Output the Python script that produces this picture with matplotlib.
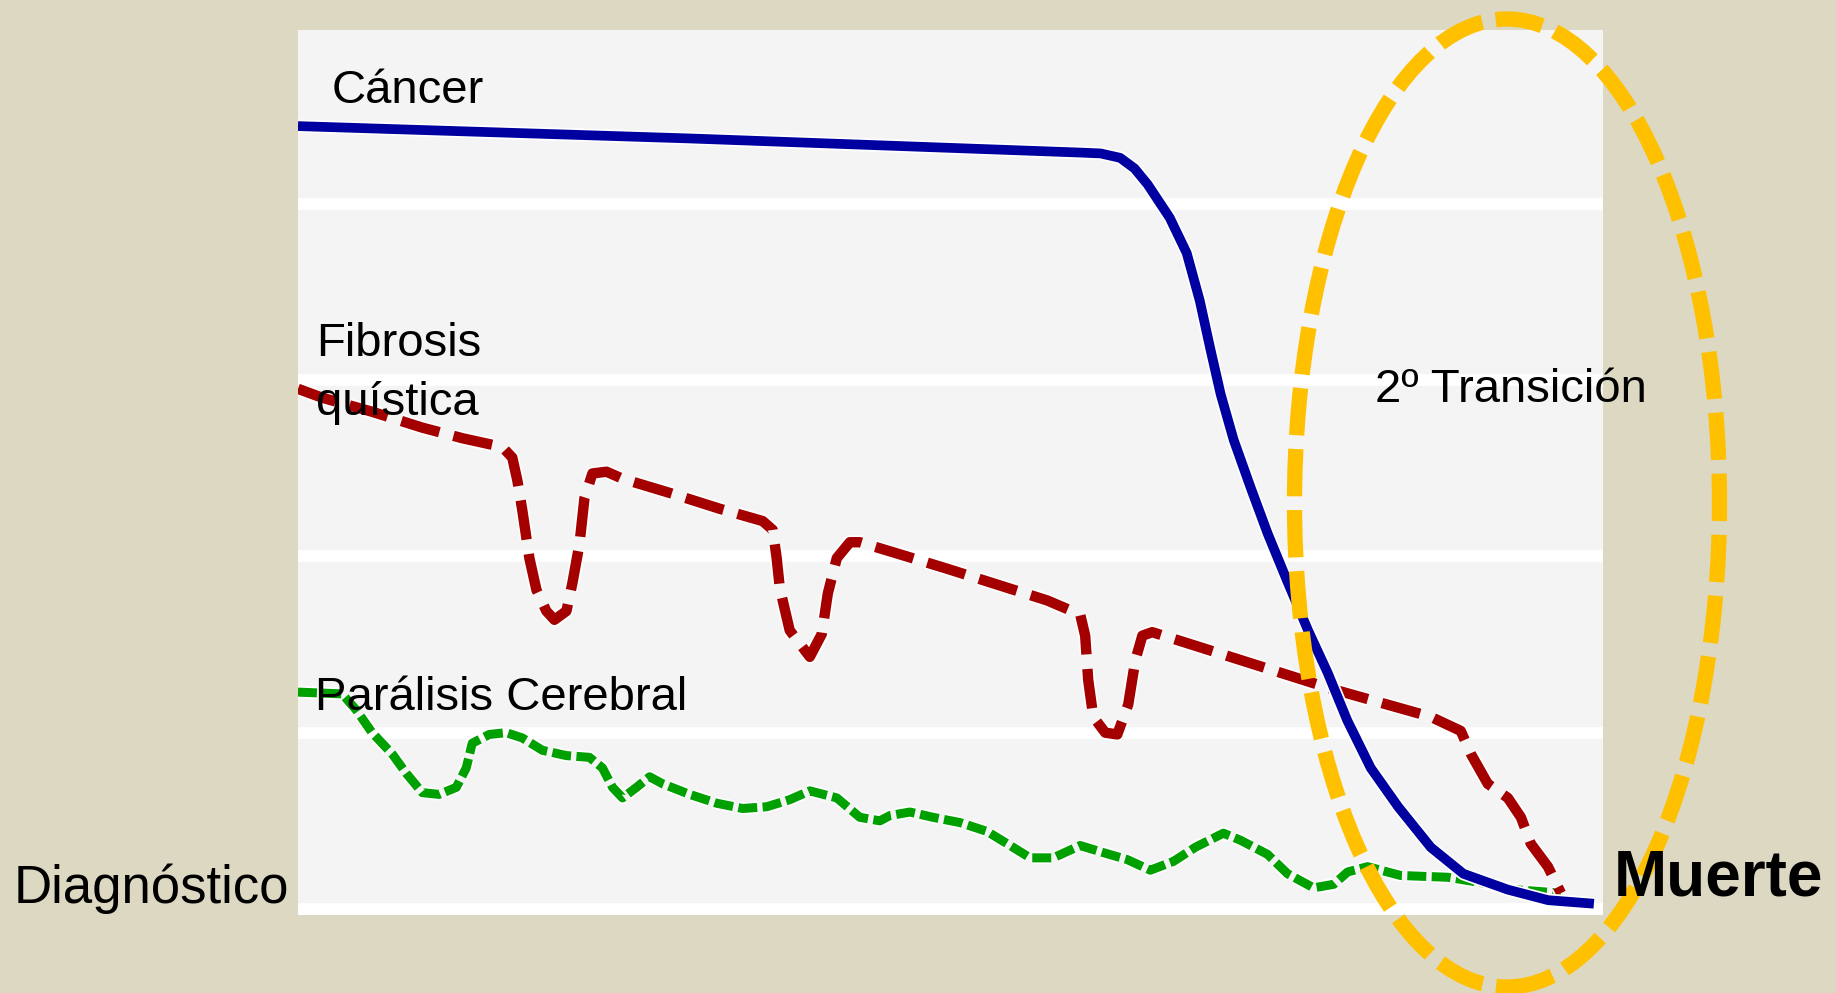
import matplotlib.pyplot as plt
import matplotlib.patheffects as pe
from matplotlib.patches import Ellipse

plt.rcParams['font.family'] = ['Liberation Sans', 'DejaVu Sans']

# trayectorias: x = tiempo desde el diagnóstico (0-100), y = nivel funcional (0-5)
cancer_x = [0, 30, 59.9, 61.5, 63.0, 64.1, 65.1, 66.8, 68.1, 69.1, 69.9, 70.7, 71.7, 73.0,
            74.3, 75.8, 77.4, 78.9, 80.4, 82.2, 84.3, 86.8, 89.3, 92.7, 95.8, 99.3]
cancer_y = [4.44, 4.37, 4.29, 4.285, 4.26, 4.20, 4.11, 3.92, 3.72, 3.45, 3.18, 2.92, 2.66, 2.39,
            2.13, 1.86, 1.58, 1.34, 1.07, 0.80, 0.58, 0.35, 0.20, 0.11, 0.05, 0.03]

fibrosis_x = [0, 1.84, 5.68, 9.52, 12.59, 15.66, 16.42, 16.81, 17.19, 17.73, 18.27, 19.03,
              19.65, 20.57, 21.03, 21.57, 21.95, 22.56, 23.64, 24.87, 28.47, 32.31, 35.61,
              36.38, 36.68, 36.92, 37.68, 39.22, 40.14, 40.60, 41.29, 42.29, 43.05, 45.74,
              49.73, 53.57, 57.41, 59.94, 60.32, 60.55, 60.94, 61.86, 62.78, 63.62, 64.16,
              64.70, 65.46, 67.61, 71.45, 75.29, 79.13, 82.96, 86.80, 89.10, 89.87, 91.17,
              92.71, 93.71, 94.47, 95.78, 96.78]
fibrosis_y = [2.95, 2.90, 2.82, 2.73, 2.67, 2.62, 2.56, 2.43, 2.26, 1.99, 1.81, 1.69,
              1.64, 1.69, 1.85, 2.07, 2.33, 2.47, 2.48, 2.44, 2.36, 2.27, 2.20,
              2.15, 1.99, 1.82, 1.58, 1.43, 1.56, 1.79, 1.99, 2.08, 2.08, 2.02,
              1.93, 1.84, 1.75, 1.67, 1.55, 1.30, 1.09, 1.00, 0.99, 1.16, 1.41,
              1.55, 1.57, 1.52, 1.43, 1.34, 1.25, 1.17, 1.09, 1.01, 0.88, 0.71,
              0.63, 0.52, 0.37, 0.24, 0.09]

paralisis_x = [0, 3.38, 4.45, 5.68, 7.21, 8.29, 9.52, 10.82, 12.13, 12.89, 13.35, 14.66,
               15.96, 17.19, 18.73, 20.57, 22.33, 23.33, 24.10, 24.87, 25.94, 26.94, 27.94,
               30.01, 32.08, 34.08, 35.92, 37.68, 39.22, 41.29, 43.05, 44.59, 45.36, 46.89,
               48.66, 50.73, 52.80, 54.57, 56.10, 57.87, 59.94, 61.70, 63.55, 65.31, 67.08,
               68.76, 70.91, 72.22, 74.29, 75.83, 77.82, 79.36, 80.43, 81.96, 84.50, 88.10,
               90.64, 93.17, 96.78]
paralisis_y = [1.23, 1.22, 1.13, 1.00, 0.88, 0.77, 0.66, 0.65, 0.69, 0.80, 0.94, 0.99,
               1.00, 0.97, 0.90, 0.87, 0.86, 0.80, 0.69, 0.63, 0.69, 0.75, 0.71,
               0.65, 0.60, 0.57, 0.58, 0.62, 0.67, 0.63, 0.52, 0.50, 0.53, 0.55,
               0.52, 0.49, 0.44, 0.36, 0.29, 0.29, 0.36, 0.32, 0.28, 0.22, 0.27,
               0.35, 0.43, 0.39, 0.31, 0.20, 0.12, 0.14, 0.21, 0.24, 0.19, 0.18,
               0.15, 0.11, 0.09]

bands = [0, 1, 2, 3, 4]

W, H = 1836, 993
fig = plt.figure(figsize=(W / 100, H / 100), dpi=100)
fig.patch.set_facecolor('#ddd8c2')

ax = fig.add_axes([298 / W, 1 - 915 / H, (1603 - 298) / W, (915 - 30) / H])
ax.set_facecolor('#f4f4f4')
ax.set_xlim(0, 100)
ax.set_ylim(-0.034, 4.985)
ax.set_xticks([])
ax.set_yticks(bands)
ax.tick_params(length=0, labelleft=False)
ax.yaxis.grid(True, color='white', linewidth=8.5)
ax.set_axisbelow(True)
for s in ax.spines.values():
    s.set_visible(False)

def halo(lw):
    return [pe.Stroke(linewidth=lw + 2.5, foreground='white'), pe.Normal()]

ax.plot(paralisis_x, paralisis_y, color='#00a000', linewidth=6.5,
        linestyle=(0, (2.1, 0.6)), solid_joinstyle='round',
        path_effects=halo(6.5), zorder=3)
ax.plot(fibrosis_x, fibrosis_y, color='#a50000', linewidth=7.5,
        linestyle=(0, (3.8, 1.4)), dash_joinstyle='round',
        path_effects=halo(7.5), zorder=3)
ax.plot(cancer_x, cancer_y, color='#0000a0', linewidth=7,
        solid_joinstyle='round', solid_capstyle='butt',
        path_effects=halo(7), zorder=4)

# elipse de la segunda transición
fig.add_artist(Ellipse((1507 / W, 1 - 503 / H), 425 / W, 968 / H,
                       transform=fig.transFigure, fill=False, edgecolor='#ffc000',
                       linewidth=11, linestyle=(0, (3.1, 0.9)), zorder=5))

def label(x, base, s, size=34, **kw):
    fig.text(x / W, 1 - base / H, s, fontsize=size, va='baseline', ha='left',
             color='black', zorder=6, **kw)

label(332, 103, 'Cáncer')
label(316, 356, 'Fibrosis')
label(316, 415, 'quística')
label(315, 710, 'Parálisis Cerebral')
label(14, 903, 'Diagnóstico', size=38)
label(1375, 402, '2º Transición')
label(1614, 896, 'Muerte', size=46, fontweight='bold')

fig.savefig('out.png', dpi=100, facecolor=fig.get_facecolor())
